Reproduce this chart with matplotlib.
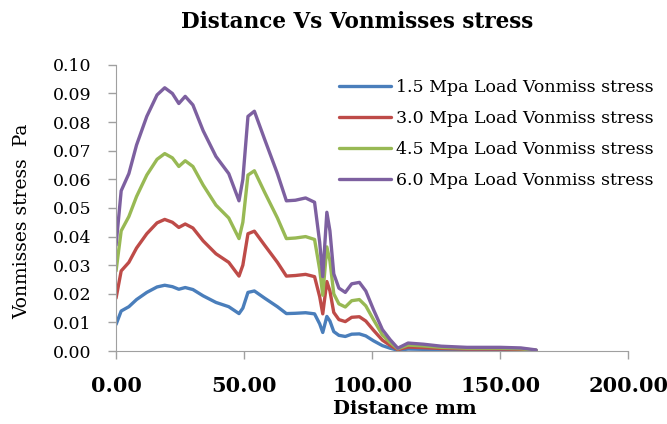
import matplotlib
matplotlib.use("Agg")
import matplotlib.pyplot as plt

distance = [0, 2, 5, 8, 12, 16, 19, 22, 24.5, 27, 30, 34, 39, 44, 48, 49.5, 51.5, 54, 58, 63,
            66.5, 70, 74, 77.5, 79.5, 80.7, 82.3, 83.5, 85, 87, 89.5, 92, 95, 97.5, 100.5,
            104, 107, 110, 114, 120, 127, 137, 150, 158, 164]

stress_15 = [0.0093, 0.014, 0.0155, 0.018, 0.0205, 0.0224, 0.023, 0.0225, 0.0216, 0.0222,
             0.0215, 0.0193, 0.017, 0.0155, 0.0131, 0.015, 0.0205, 0.021, 0.0185, 0.0155,
             0.0131, 0.0132, 0.0134, 0.013, 0.0095, 0.0065, 0.0121, 0.0105, 0.0068, 0.0055,
             0.0051, 0.0059, 0.006, 0.0053, 0.0036, 0.0019, 0.001, 0.0003, 0.0007, 0.0006,
             0.0004, 0.0003, 0.0003, 0.0003, 0.0001]

stress_30 = [0.0185, 0.028, 0.031, 0.036, 0.041, 0.0448, 0.046, 0.045, 0.0432, 0.0444,
             0.043, 0.0385, 0.034, 0.031, 0.0262, 0.030, 0.041, 0.0419, 0.037, 0.031,
             0.0262, 0.0264, 0.0268, 0.026, 0.019, 0.013, 0.0243, 0.021, 0.0135, 0.011,
             0.0103, 0.0118, 0.012, 0.0105, 0.0073, 0.0038, 0.002, 0.0005, 0.0014, 0.0012,
             0.0009, 0.0007, 0.0007, 0.0006, 0.0002]

stress_45 = [0.028, 0.042, 0.047, 0.054, 0.0615, 0.067, 0.069, 0.0675, 0.0645, 0.0665,
             0.0645, 0.058, 0.051, 0.0465, 0.0393, 0.045, 0.0615, 0.063, 0.0555, 0.0465,
             0.0393, 0.0395, 0.040, 0.039, 0.0285, 0.0195, 0.0364, 0.0315, 0.020, 0.0165,
             0.0154, 0.0176, 0.018, 0.0158, 0.011, 0.0056, 0.003, 0.0008, 0.0021, 0.0018,
             0.0013, 0.001, 0.001, 0.0008, 0.0003]

stress_60 = [0.037, 0.056, 0.062, 0.072, 0.082, 0.0895, 0.092, 0.090, 0.0865, 0.089,
             0.086, 0.077, 0.068, 0.062, 0.0525, 0.060, 0.082, 0.0838, 0.074, 0.062,
             0.0525, 0.0527, 0.0535, 0.052, 0.038, 0.026, 0.0485, 0.042, 0.027, 0.022,
             0.0205, 0.0235, 0.024, 0.021, 0.0145, 0.0075, 0.004, 0.001, 0.0028, 0.0024,
             0.0017, 0.0013, 0.0013, 0.0011, 0.0004]

labels = ["1.5 Mpa Load Vonmiss stress", "3.0 Mpa Load Vonmiss stress",
          "4.5 Mpa Load Vonmiss stress", "6.0 Mpa Load Vonmiss stress"]
colors = ["#4a7ebb", "#be4b48", "#98b954", "#7d60a0"]

xticks = [0, 50, 100, 150, 200]
yticks = [0.0, 0.01, 0.02, 0.03, 0.04, 0.05, 0.06, 0.07, 0.08, 0.09, 0.10]

plt.rcParams['font.family'] = ['DejaVu Serif']

fig = plt.figure(figsize=(6.67, 4.24), dpi=100)
ax = fig.add_axes([0.174, 0.172, 0.768, 0.675])

for ys, lab, c in zip([stress_15, stress_30, stress_45, stress_60], labels, colors):
    ax.plot(distance, ys, color=c, lw=2.4, label=lab, solid_joinstyle='round',
            solid_capstyle='round')

ax.set_xlim(0, 200)
ax.set_ylim(0, 0.10)
ax.set_xticks(xticks)
ax.set_xticklabels([f"{v:.2f}" for v in xticks], fontsize=15, fontweight='bold')
ax.set_yticks(yticks)
ax.set_yticklabels([f"{v:.2f}" for v in yticks], fontsize=12.5)
for sp in ['top', 'right']:
    ax.spines[sp].set_visible(False)
for sp in ['left', 'bottom']:
    ax.spines[sp].set_color('#a0a0a0')
ax.tick_params(axis='both', direction='out', length=6, color='#a0a0a0', width=1)
ax.tick_params(axis='x', pad=12)
ax.tick_params(axis='y', pad=12)

fig.text(0.535, 0.948, "Distance Vs Vonmisses stress", ha='center', va='center',
         fontsize=15.5, fontweight='bold')
fig.text(0.033, 0.478, "Vonmisses stress  Pa", rotation=90, ha='center', va='center',
         fontsize=13.5)
fig.text(0.607, 0.035, "Distance mm", ha='center', va='center', fontsize=14,
         fontweight='bold')

leg = ax.legend(loc='upper left', bbox_to_anchor=(0.405, 1.005), frameon=False,
                fontsize=12.5, handlelength=3.0, handletextpad=0.3, labelspacing=0.8)

fig.savefig("out.png", dpi=100)
